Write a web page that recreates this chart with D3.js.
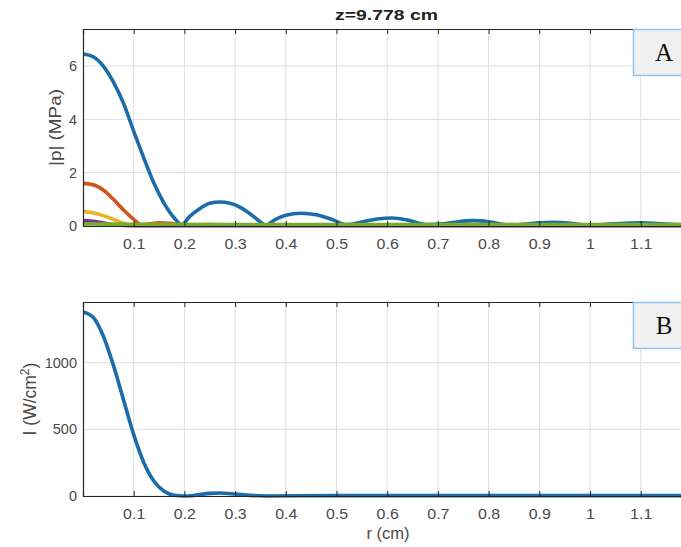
<!DOCTYPE html>
<html><head><meta charset="utf-8">
<script src="https://cdn.jsdelivr.net/npm/d3@7"></script>
<style>body{margin:0;background:#fff;overflow:hidden}text{font-family:"Liberation Sans",Arial,sans-serif}</style>
</head><body>
<script>
const title = "z=9.778 cm";
const xTicks = [0.1,0.2,0.3,0.4,0.5,0.6,0.7,0.8,0.9,1,1.1,1.2];
const xTickLabels = ["0.1","0.2","0.3","0.4","0.5","0.6","0.7","0.8","0.9","1","1.1",""];
const pTicks = [0,2,4,6];
const iTicks = [0,500,1000];
const seriesColors = ["#1b6ca8","#d2541c","#e8b424","#7e2f8e","#77ac30"];

const rBlue = [0,0.02,0.04,0.06,0.08,0.10,0.12,0.14,0.16,0.18,0.195,0.21,0.23,0.25,0.27,0.29,0.31,0.33,0.35,0.36,0.38,0.40,0.43,0.46,0.49,0.52,0.55,0.58,0.61,0.64,0.68,0.71,0.74,0.77,0.80,0.84,0.87,0.90,0.93,0.97,1.0,1.03,1.07,1.1,1.14,1.2];
const pBlue = [6.45,6.35,6.0,5.4,4.6,3.55,2.55,1.6,0.85,0.3,0.05,0.35,0.65,0.85,0.9,0.85,0.7,0.45,0.15,0.03,0.25,0.4,0.48,0.42,0.25,0.05,0.15,0.26,0.3,0.22,0.05,0.08,0.16,0.2,0.16,0.04,0.06,0.12,0.14,0.08,0.02,0.06,0.1,0.12,0.08,0.03];

const rOrange = [0,0.02,0.04,0.06,0.08,0.10,0.115,0.13,0.15,0.17,0.2,0.25,0.3,0.5,0.8,1.2];
const pOrange = [1.6,1.55,1.35,1.0,0.6,0.25,0.05,0.08,0.12,0.1,0.03,0.05,0.03,0.03,0.03,0.03];

const rYellow = [0,0.03,0.06,0.08,0.1,0.2,0.5,1.2];
const pYellow = [0.55,0.45,0.25,0.1,0.02,0.03,0.02,0.02];

const rPurple = [0,0.03,0.06,0.1,0.5,1.2];
const pPurple = [0.2,0.15,0.05,0.01,0.01,0.01];

const rGreen = [0,0.1,0.3,0.6,0.9,1.2];
const pGreen = [0.08,0.06,0.05,0.05,0.05,0.05];

const rInt = [0,0.02,0.04,0.06,0.08,0.10,0.12,0.14,0.16,0.18,0.2,0.22,0.25,0.27,0.3,0.33,0.36,0.5,0.7,0.9,1.1,1.2];
const iInt = [1380,1340,1200,980,720,460,250,110,35,5,0,5,20,22,15,5,0,3,3,3,3,3];

const W=681,H=547;
const svg=d3.select("body").append("svg").attr("width",W).attr("height",H);
const x=d3.scaleLinear().domain([0,1.2]).range([83,691.4]);

function panel(top,bottom,yDomain,yTicks,series,label,ylabelX,boxLetter){
  const y=d3.scaleLinear().domain(yDomain).range([bottom,top]);
  const g=svg.append("g");
  g.selectAll(".vg").data(xTicks).join("line").attr("x1",d=>x(d)).attr("x2",d=>x(d)).attr("y1",top).attr("y2",bottom).attr("stroke","#dedede").attr("stroke-width",1);
  g.selectAll(".hg").data(yTicks).join("line").attr("x1",83).attr("x2",691).attr("y1",d=>y(d)).attr("y2",d=>y(d)).attr("stroke","#dedede").attr("stroke-width",1);
  const clipId="c"+top;
  svg.append("clipPath").attr("id",clipId).append("rect").attr("x",83).attr("y",top-5).attr("width",610).attr("height",bottom-top+10);
  const lg=g.append("g").attr("clip-path",`url(#${clipId})`);
  series.forEach(s=>{
    const pts=s.r.map((r,i)=>[r,s.v[i]]);
    lg.append("path").datum(pts).attr("fill","none").attr("stroke",s.c).attr("stroke-width",3.6).attr("stroke-linejoin","round")
      .attr("d",d3.line().x(d=>x(d[0])).y(d=>y(d[1])).curve(d3.curveMonotoneX));
  });
  const ab=g.append("g").attr("transform",`translate(0,${bottom})`).call(d3.axisBottom(x).tickValues(xTicks).tickSize(-5).tickPadding(12.5).tickFormat((d,i)=>xTickLabels[i]));
  const at=g.append("g").attr("transform",`translate(0,${top})`).call(d3.axisTop(x).tickValues(xTicks).tickSize(-5).tickFormat(""));
  const al=g.append("g").attr("transform",`translate(83,0)`).call(d3.axisLeft(y).tickValues(yTicks).tickSize(0).tickPadding(6).tickFormat(d3.format("d")));
  [ab,at,al].forEach(a=>{a.select(".domain").attr("stroke","#262626").attr("stroke-width",1.2);a.selectAll(".tick line").attr("stroke","#262626");a.selectAll("text").attr("fill","#4a4a4a").style("font-size","14.5px").style("font-family","'Liberation Sans',Arial,sans-serif");});
  ab.selectAll("text").attr("transform","scale(1.1,1)");
  const lt=g.append("text").attr("transform",`translate(${ylabelX},${(top+bottom)/2}) rotate(-90)`).attr("text-anchor","middle").attr("fill","#4a4a4a").style("font-size","16px");
  label(lt);
  g.append("rect").attr("x",633.5).attr("y",top+0.5).attr("width",60).attr("height",46).attr("fill","#f0f0f0").attr("stroke","#8cc6ea").attr("stroke-width",1.5);
  g.append("text").attr("x",664).attr("y",top+32).attr("text-anchor","middle").attr("fill","#111").style("font-family","'Liberation Serif','Times New Roman',serif").style("font-size","25px").text(boxLetter);
}

panel(29,226,[0,7.39],pTicks,[
  {r:rBlue,v:pBlue,c:seriesColors[0]},
  {r:rOrange,v:pOrange,c:seriesColors[1]},
  {r:rYellow,v:pYellow,c:seriesColors[2]},
  {r:rPurple,v:pPurple,c:seriesColors[3]},
  {r:rGreen,v:pGreen,c:seriesColors[4]}
], t=>t.attr("textLength",77).attr("lengthAdjust","spacingAndGlyphs").text("|p| (MPa)"), 61, "A");

panel(302,496,[0,1455],iTicks,[{r:rInt,v:iInt,c:seriesColors[0]}], t=>{
  t.style("font-size","17.5px");
  t.append("tspan").text("I (W/cm");
  t.append("tspan").attr("baseline-shift","super").style("font-size","12px").text("2");
  t.append("tspan").text(")");
}, 36, "B");

svg.append("text").attr("x",386.5).attr("y",20).attr("text-anchor","middle").attr("fill","#222").attr("textLength",103).attr("lengthAdjust","spacingAndGlyphs").style("font-size","14px").style("font-weight","bold").text(title);
svg.append("text").attr("x",388).attr("y",539).attr("text-anchor","middle").attr("fill","#4a4a4a").style("font-size","16.5px").text("r (cm)");
</script>
</body></html>
